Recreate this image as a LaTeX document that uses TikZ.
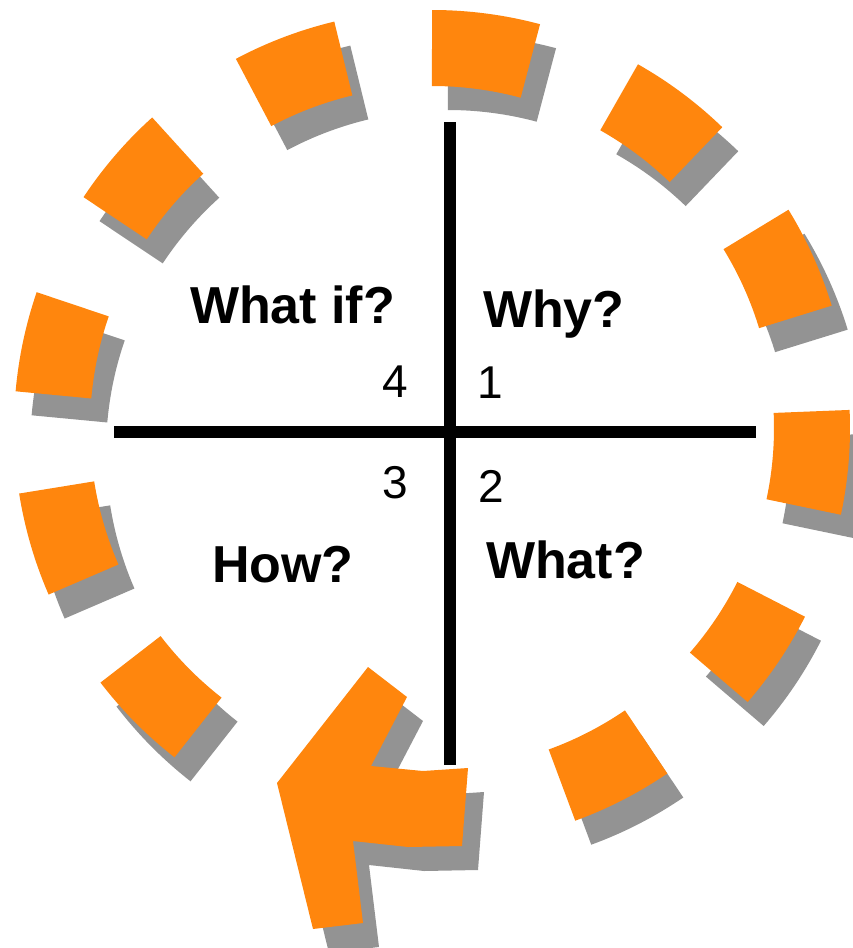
\documentclass[tikz,border=0pt]{standalone}
\usepackage{fontspec}
\setmainfont{Liberation Sans}
\usetikzlibrary{calc}
\definecolor{segorange}{RGB}{255,134,13}
\definecolor{segshade}{RGB}{147,147,147}
\begin{document}
\begin{tikzpicture}[x=1pt,y=-1pt,
  ringseg/.style={line width=76pt},
  crossline/.style={line width=12pt, draw=black},
  lbl/.style={font=\bfseries\fontsize{52}{52}\selectfont, inner sep=0pt, outer sep=0pt, anchor=base west},
  num/.style={font=\fontsize{46}{46}\selectfont, inner sep=0pt, outer sep=0pt, anchor=base}]
\useasboundingbox (0,0) rectangle (853,948);
\coordinate (C) at (432,428);
\coordinate (Cs) at (448,452);
% shadows
\foreach \a/\b in {-90/-75,-60.5/-46,-31.5/-17,-2.5/12,26.8/41,55.7/70,128/142.5,156.5/171,185/199,213.5/228,242/256.5}
  \draw[ringseg, segshade] ($(Cs)+(\a:380)$) arc[start angle=\a, end angle=\b, radius=380];
\begin{scope}[shift={(16,24)}]
  \fill[segshade] (368,667) -- (407,697) -- (371,766) -- (423,771) -- (468,768) -- (462,846) -- (408,847) -- (353,841) -- (363,923) -- (313,929) -- (277,783) -- cycle;
\end{scope}
% orange segments
\foreach \a/\b in {-90/-75,-60.5/-46,-31.5/-17,-2.5/12,26.8/41,55.7/70,128/142.5,156.5/171,185/199,213.5/228,242/256.5}
  \draw[ringseg, segorange] ($(C)+(\a:380)$) arc[start angle=\a, end angle=\b, radius=380];
\fill[segorange] (368,667) -- (407,697) -- (371,766) -- (423,771) -- (468,768) -- (462,846) -- (408,847) -- (353,841) -- (363,923) -- (313,929) -- (277,783) -- cycle;
% cross
\coordinate (vt) at (450,122);
\coordinate (vb) at (450,765);
\coordinate (hl) at (114,432);
\coordinate (hr) at (756,432);
\draw[crossline] (vt) -- (vb);
\draw[crossline] (hl) -- (hr);
% labels
\node[lbl] (whatif) at (190,323) {What if?};
\node[lbl] (why) at (483,327) {Why?};
\node[lbl] (how) at (212,582) {How?};
\node[lbl] (what) at (486,578) {What?};
\node[num] (n4) at (395,397) {4};
\node[num] (n1) at (490,398) {1};
\node[num] (n3) at (395.5,498) {3};
\node[num] (n2) at (491,502) {2};
\end{tikzpicture}
\end{document}
